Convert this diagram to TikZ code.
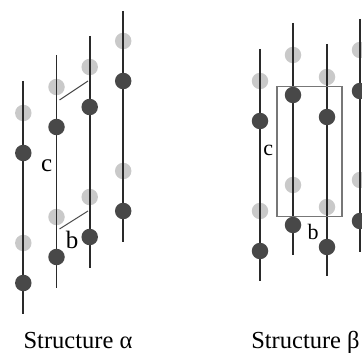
\documentclass[tikz,border=0pt]{standalone}
\usepackage{fontspec}
\setmainfont{Liberation Serif}
\definecolor{atomdark}{HTML}{484848}
\definecolor{atomlight}{HTML}{C9C9C9}
\definecolor{chainc}{HTML}{2A2A2A}
\definecolor{framec}{HTML}{777777}
\tikzset{
  lightatom/.style={circle,fill=atomlight,inner sep=0pt,minimum size=16.5pt},
  darkatom/.style={circle,fill=atomdark,inner sep=0pt,minimum size=16.5pt},
  chainline/.style={draw=chainc,line width=#1},
  cellframe/.style={draw=framec,line width=1.2pt},
  cellline/.style={draw=chainc!85,line width=1pt},
  axislabel/.style={inner sep=0pt,anchor=base,font=\fontsize{25}{25}\selectfont},
  axislabelb/.style={inner sep=0pt,anchor=base,font=\fontsize{22}{22}\selectfont},
  caption/.style={inner sep=0pt,anchor=base,font=\fontsize{24.5}{26}\selectfont}
}
\begin{document}
\begin{tikzpicture}[x=1pt,y=-1pt]
\useasboundingbox (0,0) rectangle (362,353);
% name / x / top / bottom / light1 / dark1 / light2 / dark2 / width
\foreach \n/\x/\t/\b/\ga/\da/\gb/\db/\w in {
  aA/23.3/81/314/113/153/243/283/2.2pt,
  aB/56.5/55/288/87/127/217/257/1.5pt,
  aC/89.7/36/268/67/107/197/237/2.4pt,
  aD/123.2/11/242/41/81/171/211/2.2pt,
  bA/260/49/281/81/121/211/251/2.2pt,
  bB/293/23/255/55/95/185/225/2.2pt,
  bC/327/44/276/77/117/207/247/2.2pt,
  bD/360/19/252/50/91/180/221/2.2pt}{
  \node[lightatom] (\n l1) at (\x,\ga) {};
  \node[lightatom] (\n l2) at (\x,\gb) {};
  \coordinate (\n t) at (\x,\t);
  \coordinate (\n b) at (\x,\b);
  \draw[chainline=\w] (\n t) -- (\n b);
  \node[darkatom] (\n d1) at (\x,\da) {};
  \node[darkatom] (\n d2) at (\x,\db) {};
}
% alpha cell edges
\coordinate (p1) at (59.5,100); \coordinate (p2) at (88,81);
\coordinate (p3) at (59.5,229); \coordinate (p4) at (88,211);
\draw[cellline] (p1) -- (p2);
\draw[cellline] (p3) -- (p4);
% beta cell
\node[cellframe,inner sep=0pt,minimum width=65pt,minimum height=130pt] (cell) at (309.5,151.5) {};
\node[axislabel] (lc1) at (46.7,171.7) {c};
\node[axislabel] (lb1) at (72,248) {b};
\node[axislabelb] (lc2) at (268.3,155.5) {c};
\node[axislabelb] (lb2) at (313,239) {b};
\node[caption] (cap1) at (78,348) {Structure α};
\node[caption] (cap2) at (305.5,348) {Structure β};
\end{tikzpicture}
\end{document}
